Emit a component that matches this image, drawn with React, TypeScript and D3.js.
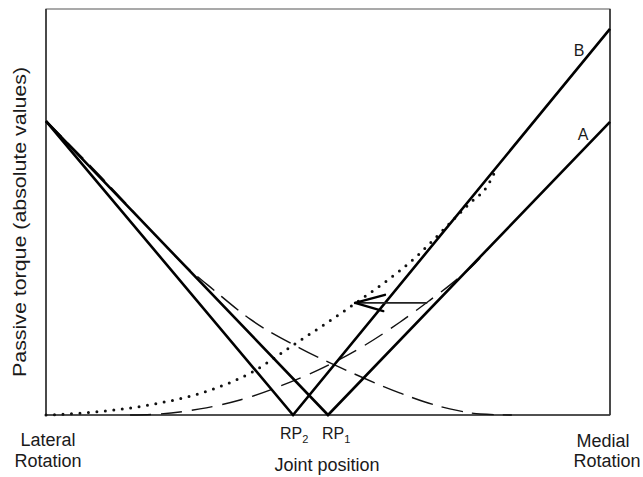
import * as d3 from "d3";

// joint position (0 = full lateral, 100 = full medial) / passive torque (0..100)
const startTorque = 72.4;
const rp2 = 43.8;
const rp1 = 50;
const endB = 95.1;
const endA = 72.2;

const descendingDashed: [number, number][] = [
  [0, 72.4], [10, 58.3], [20, 43.4], [23.8, 37.9], [30, 30.5], [36.2, 23.6],
  [45, 16.5], [53.9, 10.6], [62.8, 5.4], [67.2, 3.2], [71.6, 1.5], [77, 0.25], [82.6, 0],
];
const risingDashed: [number, number][] = [
  [14.9, 0], [20.2, 0.25], [27.3, 1.5], [34.4, 3.7], [43.3, 8.1], [48.6, 11.3],
  [55.7, 16.5], [62.8, 22.9], [68.1, 28.3], [71.6, 32.0], [76.1, 37.4], [78.7, 41.4],
];
const dotted: [number, number][] = [
  [0, 0], [6.6, 0.5], [18.4, 2.5], [30.3, 6.7], [36.2, 10.3], [43.8, 17.2],
  [53.9, 26.6], [65.8, 39.2], [72.0, 47.8], [75.2, 52.2], [78.4, 56.7], [80, 61.2],
];
const arrowFrom: [number, number] = [67.6, 27.6];
const arrowTo: [number, number] = [54.8, 27.6];
const arrowBarbs: [number, number][] = [[60.1, 29.6], [59.8, 25.6]];

const font = "'Liberation Sans', Arial, sans-serif";

export default function App() {
  const width = 643;
  const height = 477;
  const x = d3.scaleLinear().domain([0, 100]).range([46, 610]);
  const y = d3.scaleLinear().domain([0, 100]).range([415, 9]);

  const straight = d3.line<[number, number]>().x((d) => x(d[0])).y((d) => y(d[1]));
  const smooth = d3
    .line<[number, number]>()
    .x((d) => x(d[0]))
    .y((d) => y(d[1]))
    .curve(d3.curveMonotoneX);

  const solid = [
    [[0, startTorque], [rp2, 0], [100, endB]],
    [[0, startTorque], [rp1, 0], [100, endA]],
  ] as [number, number][][];

  return (
    <svg width={width} height={height} style={{ position: "absolute", left: 0, top: 0 }}>
      <rect x={0} y={0} width={width} height={height} fill="#fff" />
      {/* frame */}
      <rect x={x(0)} y={y(100)} width={x(100) - x(0)} height={y(0) - y(100)} fill="none" stroke="#555" strokeWidth={1} />
      <line x1={x(0)} x2={x(0)} y1={y(100)} y2={y(0)} stroke="#333" strokeWidth={1.6} />
      <line x1={x(0)} x2={x(100)} y1={y(0)} y2={y(0)} stroke="#333" strokeWidth={1.6} />
      <line x1={x(100)} x2={x(100)} y1={y(100)} y2={y(0)} stroke="#333" strokeWidth={1.6} />

      <path d={smooth(descendingDashed) ?? ""} fill="none" stroke="#111" strokeWidth={1.4} strokeDasharray="22,9" />
      <path d={smooth(risingDashed) ?? ""} fill="none" stroke="#111" strokeWidth={1.4} strokeDasharray="21,10" />
      <path d={smooth(dotted) ?? ""} fill="none" stroke="#111" strokeWidth={3} strokeLinecap="round" strokeDasharray="0,8.5" />

      {solid.map((pts, i) => (
        <path key={i} d={straight(pts) ?? ""} fill="none" stroke="#000" strokeWidth={2.6} strokeLinejoin="miter" />
      ))}

      {/* arrow */}
      <line x1={x(arrowFrom[0])} y1={y(arrowFrom[1])} x2={x(arrowTo[0])} y2={y(arrowTo[1])} stroke="#222" strokeWidth={1.8} />
      {arrowBarbs.map((b, i) => (
        <line key={i} x1={x(arrowTo[0])} y1={y(arrowTo[1])} x2={x(b[0])} y2={y(b[1])} stroke="#000" strokeWidth={2.4} strokeLinecap="round" />
      ))}

      <g fontFamily={font} fill="#1a1a1a">
        <text x={579} y={56} fontSize={16} textAnchor="middle">B</text>
        <text x={583} y={140} fontSize={16} textAnchor="middle">A</text>
        <text x={x(rp2) - 13} y={439} fontSize={16}>
          RP<tspan fontSize={11} dy={4}>2</tspan>
        </text>
        <text x={x(rp1) - 6} y={439} fontSize={16}>
          RP<tspan fontSize={11} dy={4}>1</tspan>
        </text>
        <text x={327} y={471} fontSize={18} textAnchor="middle">Joint position</text>
        <text x={48} y={446} fontSize={18} textAnchor="middle">Lateral</text>
        <text x={48} y={467} fontSize={18} textAnchor="middle">Rotation</text>
        <text x={603} y={447} fontSize={18} textAnchor="middle">Medial</text>
        <text x={607} y={467} fontSize={18} textAnchor="middle">Rotation</text>
        <text
          transform="translate(26,222) rotate(-90)"
          fontSize={19}
          textAnchor="middle"
          textLength={310}
          lengthAdjust="spacingAndGlyphs"
        >
          Passive torque (absolute values)
        </text>
      </g>
    </svg>
  );
}
